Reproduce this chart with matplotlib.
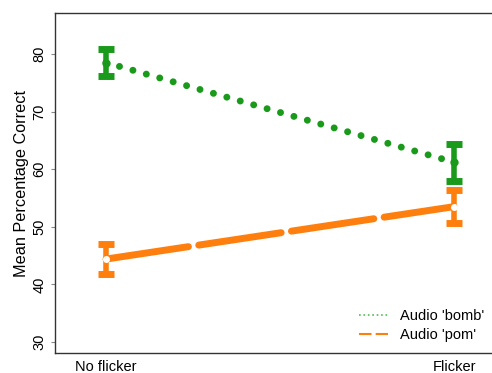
import matplotlib.pyplot as plt
import numpy as np

plt.rcParams['font.family'] = ['Liberation Sans', 'DejaVu Sans']

conditions = ['No flicker', 'Flicker']
bomb_mean = [78.5, 61.2]
bomb_err = [2.3, 3.2]
pom_mean = [44.4, 53.5]
pom_err = [2.65, 2.85]

green = '#1a9a1a'
orange = '#ff7f0e'

fig = plt.figure(figsize=(4.92, 3.73), dpi=100)
ax = fig.add_axes([0.1118, 0.0536, 0.93, 0.9115])
x = np.arange(1, len(conditions) + 1)

# bomb series
ax.plot(x, bomb_mean, color=green, linestyle=(0, (0.01, 2.0)), lw=5,
        dash_capstyle='round', zorder=2)
ax.errorbar(x, bomb_mean, yerr=bomb_err, fmt='o', color=green, ms=5,
            elinewidth=4, capsize=5.5, capthick=5, zorder=3)
# pom series
ax.plot(x, pom_mean, color=orange, linestyle=(0, (12, 1.5)), lw=5,
        dash_capstyle='round', zorder=2)
ax.errorbar(x, pom_mean, yerr=pom_err, fmt='none', ecolor=orange,
            elinewidth=4, capsize=5.5, capthick=5, zorder=3)
ax.plot(x, pom_mean, 'o', color='white', ms=4, zorder=4)

# legend proxies
ax.plot([], [], color='#55bb55', linestyle=':', lw=1.2, label="Audio 'bomb'")
ax.plot([], [], color=orange, linestyle=(0, (6, 2)), lw=1.5, label="Audio 'pom'")
ax.legend(loc='lower left', bbox_to_anchor=(0.652, 0.015), frameon=False,
          fontsize=10.5, handlelength=2.0, handletextpad=0.8,
          labelspacing=0.35, borderaxespad=0)

ax.set_xlim(0.8534, 2.168)
ax.set_ylim(28.1, 87.1)
ax.set_xticks(x)
ax.set_xticklabels(conditions, fontsize=10.5)
ax.tick_params(axis='x', length=0, pad=5)
ax.set_yticks([30, 40, 50, 60, 70, 80])
ax.tick_params(axis='y', length=3, color='#888888', labelsize=10.5, pad=3)
for lab in ax.get_yticklabels():
    lab.set_rotation(90)
    lab.set_va('center')
ax.set_ylabel('Mean Percentage Correct', fontsize=11.7, labelpad=3)
for s in ax.spines.values():
    s.set_color('#333333')
    s.set_linewidth(1.0)

fig.savefig('out.png', dpi=100)
